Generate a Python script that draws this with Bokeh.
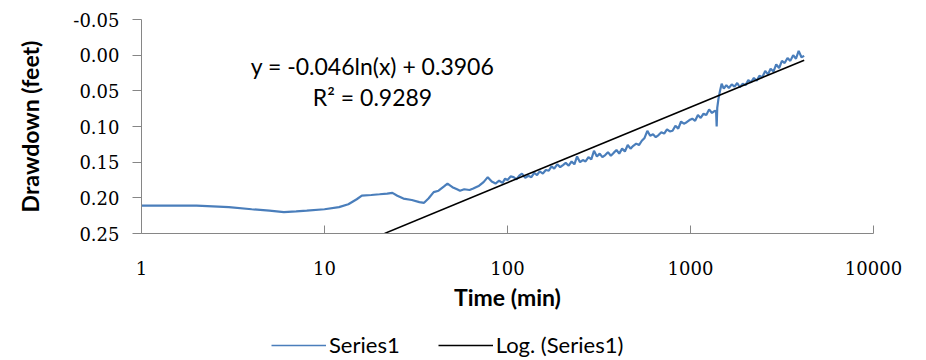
from bokeh.plotting import figure
from bokeh.layouts import column
from bokeh.models import (Range1d, FixedTicker, NumeralTickFormatter, Label,
                          Legend, LegendItem, ColumnDataSource)
from bokeh.embed import file_html
from bokeh.resources import INLINE
import math

# ---- data ----
time_min = [1, 1.5, 2, 3, 4, 5, 6, 7, 8, 10, 12, 13.5, 15, 16, 18, 20, 22, 23.5,
            25, 27, 30, 33, 35, 37, 39.5, 42, 45, 47, 50, 53, 55, 58, 62, 65, 70,
            74, 78, 82, 86, 90, 94, 97,
            100, 104, 108, 112, 116, 120, 125, 130, 135, 140, 145, 150, 156, 162,
            168, 174, 180, 187, 194, 201, 208, 216, 224, 232, 240, 249, 258, 267,
            277, 287, 297, 308, 319, 330, 342, 354, 367, 380, 394, 408, 423, 438,
            454, 470, 487, 505, 523, 542, 561, 581, 602, 624, 646, 669, 693, 718,
            744, 771, 798, 827, 857, 888, 920, 953, 987, 1023, 1060, 1098, 1137,
            1178, 1220, 1264, 1310, 1357, 1380, 1390, 1400, 1420, 1450, 1480, 1520,
            1570, 1620, 1680, 1740, 1800, 1860, 1930, 2000, 2070, 2140, 2220, 2300,
            2380, 2470, 2560, 2650, 2740, 2840, 2940, 3050, 3160, 3270, 3390, 3510,
            3640, 3770, 3900, 4040, 4180]
drawdown_ft = [0.211, 0.211, 0.211, 0.213, 0.216, 0.218, 0.220, 0.219, 0.218, 0.216,
               0.213, 0.209, 0.202, 0.197, 0.196, 0.195, 0.194, 0.193, 0.197, 0.201,
               0.203, 0.206, 0.207, 0.201, 0.192, 0.190, 0.184, 0.180, 0.185, 0.188,
               0.190, 0.188, 0.189, 0.187, 0.183, 0.178, 0.171, 0.177, 0.180, 0.176,
               0.179, 0.173,
               0.175, 0.170, 0.171, 0.174, 0.169, 0.166, 0.172, 0.169, 0.171, 0.165,
               0.168, 0.163, 0.166, 0.161, 0.162, 0.156, 0.159, 0.153, 0.157, 0.154,
               0.151, 0.155, 0.149, 0.153, 0.142, 0.150, 0.147, 0.149, 0.143, 0.146,
               0.134, 0.142, 0.138, 0.143, 0.140, 0.136, 0.141, 0.137, 0.133, 0.138,
               0.131, 0.135, 0.126, 0.131, 0.127, 0.124, 0.126, 0.120, 0.116, 0.106,
               0.113, 0.111, 0.115, 0.112, 0.108, 0.110, 0.104, 0.107, 0.106, 0.099,
               0.103, 0.093, 0.096, 0.094, 0.091, 0.089, 0.092, 0.084, 0.088, 0.082,
               0.084, 0.076, 0.081, 0.078, 0.079, 0.100, 0.074, 0.062, 0.050, 0.040,
               0.047, 0.042, 0.046, 0.041, 0.044, 0.039, 0.045, 0.040, 0.042, 0.035,
               0.038, 0.032, 0.036, 0.029, 0.031, 0.022, 0.027, 0.019, 0.023, 0.013,
               0.018, 0.008, 0.011, 0.004, 0.008, 0.000, 0.005, -0.006, 0.003, 0.001]

# logarithmic trendline y = a*ln(x) + b (coefficients from the chart label)
trend_a = -0.046
trend_b = 0.3906
trend_t = [21.3, 4180]

y_ticks = [-0.05, 0.0, 0.05, 0.10, 0.15, 0.20, 0.25]
x_ticks = [1, 10, 100, 1000, 10000]
series_names = ["Series1", "Log. (Series1)"]

trend_v = [trend_a * math.log(t) + trend_b for t in trend_t]

series_color = "#4a7ebb"
trend_color = "black"
axis_col = "#868686"
tick_font = "DejaVu Serif"
title_font = "Lato"

# ---- main figure ----
p = figure(width=926, height=325, x_axis_type="log",
           x_range=Range1d(1, 10000), y_range=Range1d(0.25, -0.05),
           output_backend="svg", toolbar_location=None,
           min_border_left=141, min_border_right=53,
           min_border_top=19, min_border_bottom=92)
p.outline_line_color = None
p.background_fill_color = "white"
p.border_fill_color = "white"
p.xgrid.visible = False
p.ygrid.visible = False

src = ColumnDataSource(dict(t=time_min, v=drawdown_ft))
r1 = p.line("t", "v", source=src, line_color=series_color, line_width=2.2)
r2 = p.line(trend_t, trend_v, line_color=trend_color, line_width=1.6)

xa = p.xaxis[0]
xa.ticker = FixedTicker(ticks=x_ticks, minor_ticks=[])
xa.formatter = NumeralTickFormatter(format="0")
xa.axis_line_color = axis_col
xa.major_tick_line_color = axis_col
xa.major_tick_in = 8
xa.major_tick_out = 0
xa.minor_tick_line_color = None
xa.major_label_text_font = tick_font
xa.major_label_text_font_size = "18px"
xa.major_label_text_color = "black"
xa.major_label_standoff = 27
xa.axis_label = "Time (min)"
xa.axis_label_text_font = title_font
xa.axis_label_text_font_style = "bold"
xa.axis_label_text_font_size = "23px"
xa.axis_label_text_color = "black"
xa.axis_label_standoff = 5

ya = p.yaxis[0]
ya.ticker = FixedTicker(ticks=y_ticks, minor_ticks=[])
ya.formatter = NumeralTickFormatter(format="0.00")
ya.axis_line_color = axis_col
ya.major_tick_line_color = axis_col
ya.major_tick_in = 0
ya.major_tick_out = 9
ya.minor_tick_line_color = None
ya.major_label_text_font = tick_font
ya.major_label_text_font_size = "18px"
ya.major_label_text_color = "black"
ya.major_label_standoff = 13
ya.axis_label = "Drawdown (feet)"
ya.axis_label_text_font = title_font
ya.axis_label_text_font_style = "bold"
ya.axis_label_text_font_size = "23px"
ya.axis_label_text_color = "black"
ya.axis_label_standoff = 26

for txt, yv in [("y = -0.046ln(x) + 0.3906", 0.0145), ("R\u00b2 = 0.9289", 0.059)]:
    p.add_layout(Label(x=18.3, y=yv, text=txt, text_align="center",
                       text_baseline="middle", text_font=title_font,
                       text_font_size="23px", text_color="black"))

# ---- legend strip (separate small figure under the chart) ----
q = figure(width=926, height=35, x_range=Range1d(0, 1), y_range=Range1d(0, 1),
           output_backend="svg", toolbar_location=None,
           x_axis_location=None, y_axis_location=None,
           min_border=0, min_border_left=0, min_border_right=0,
           min_border_top=0, min_border_bottom=0)
q.outline_line_color = None
q.xgrid.visible = False
q.ygrid.visible = False
q.border_fill_color = "white"
# legend proxies: placed outside this strip's visible range, only their legend glyphs show
lr1 = q.line([-2, -1], [-2, -1], line_color=series_color, line_width=1.6)
lr2 = q.line([-2, -1], [-2, -1], line_color=trend_color, line_width=1.6)
legend = Legend(items=[LegendItem(label=series_names[0], renderers=[lr1]),
                       LegendItem(label=series_names[1], renderers=[lr2])],
                orientation="horizontal", location=(130, 2),
                glyph_width=55, glyph_height=20, label_standoff=3, spacing=38,
                label_text_font=title_font, label_text_font_size="22px",
                label_text_color="black",
                border_line_color=None, background_fill_alpha=0,
                padding=3, margin=0)
q.add_layout(legend, "center")

layout = column(p, q, spacing=0)
open("out.html", "w").write(file_html(layout, INLINE))
